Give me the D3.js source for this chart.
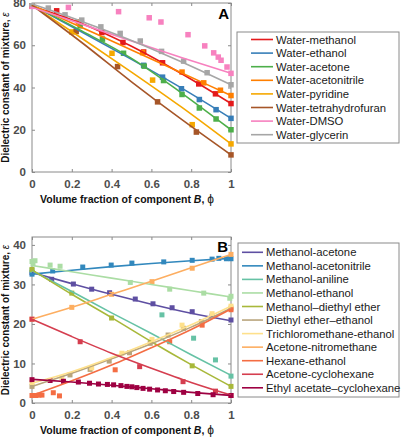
<!DOCTYPE html>
<html><head><meta charset="utf-8">
<script src="https://cdn.jsdelivr.net/npm/d3@7"></script>
<style>body{margin:0;background:#fff}svg{display:block;font-family:"Liberation Sans",Arial,sans-serif}</style>
</head><body><svg id="c" width="401" height="440"></svg>
<script>
// ---------- Panel A data ----------
const namesA = ["Water-methanol","Water-ethanol","Water-acetone","Water-acetonitrile","Water-pyridine","Water-tetrahydrofuran","Water-DMSO","Water-glycerin"];
const colorsA = ["#e41a1c","#377eb8","#4daf4a","#ff7f00","#f5a800","#a65628","#f781bf","#a6a6a6"];
const fitXA = [0, 0.25, 0.5, 0.75, 1];
const fitA_methanol = [78.5, 70.3, 59.5, 46.6, 32.4];
const fitA_ethanol = [79, 66.3, 53.3, 39.8, 25.4];
const fitA_acetone = [79, 66.8, 53.8, 37.5, 20];
const fitA_acetonitrile = [79, 68.4, 57.8, 47, 36.2];
const fitA_pyridine = [79, 63.3, 47.3, 30.8, 13.3];
const fitA_thf = [79, 61.3, 42.7, 25, 8.1];
const fitA_dmso = [78, 70, 62, 54.2, 46.7];
const fitA_glycerin = [79.5, 71.3, 62.3, 52.2, 41.3];
const ptsA_methanol = [[0,78.5],[0.124,76.3],[0.351,66],[0.457,61.3],[0.561,56.8],[0.656,51.7],[0.838,41.7],[0.922,37],[1,32.4]];
const ptsA_ethanol = [[0,79],[0.561,50.5],[0.656,44.9],[0.751,39.4],[0.841,34.3],[0.925,29.5],[1,25.4]];
const ptsA_acetone = [[0,79],[0.242,69.2],[0.354,62.9],[0.46,56.2],[0.564,50.1],[0.661,43.3],[0.754,36.7],[0.841,30.3],[0.925,25.1],[1,20]];
const ptsA_acetonitrile = [[0,79],[0.233,71.1],[0.556,56.5],[0.754,47.3],[0.863,42.2],[0.947,38.7],[1,36.2]];
const ptsA_pyridine = [[0,79],[0.2,66.3],[0.402,56.2],[0.606,43.5],[0.805,22.4],[1,13.3]];
const ptsA_thf = [[0,79],[0.222,66.5],[0.43,49.9],[0.631,33.2],[0.826,18.9],[1,8.1]];
const ptsA_dmso = [[0,78.4],[0.183,77.9],[0.435,75.9],[0.589,73],[0.648,71],[0.784,65],[0.868,59.7],[0.913,56.4],[0.936,54.4],[0.95,52.9],[0.98,49.7],[1,46.7]];
const ptsA_glycerin = [[0,79.6],[0.082,77.6],[0.166,74.4],[0.25,71.9],[0.346,68.7],[0.443,65.6],[0.544,62],[0.651,57.1],[0.762,52.5],[0.88,47],[1,41.3]];
const fitsA = [fitA_methanol,fitA_ethanol,fitA_acetone,fitA_acetonitrile,fitA_pyridine,fitA_thf,fitA_dmso,fitA_glycerin];
const ptsA = [ptsA_methanol,ptsA_ethanol,ptsA_acetone,ptsA_acetonitrile,ptsA_pyridine,ptsA_thf,ptsA_dmso,ptsA_glycerin];

// ---------- Panel B data ----------
const namesB = ["Methanol-acetone","Methanol-acetonitrile","Methanol-aniline","Methanol-ethanol","Methanol\u2013diethyl ether","Diethyl ether\u2013ethanol","Trichloromethane-ethanol","Acetone-nitromethane","Hexane-ethanol","Acetone-cyclohexane","Ethyl acetate\u2013cyclohexane"];
const colorsB = ["#5e4fa2","#3288bd","#66c2a5","#abdda4","#a8b83a","#b9a57c","#fee08b","#fdae61","#f46d43","#d53e4f","#9e0142"];
const fitXB = [0, 0.2, 0.4, 0.6, 0.8, 1];
const fitB_meAcetone = [33, 30.2, 27.5, 25, 22.7, 20.8];
const fitB_meAcetonitrile = [32.6, 33.6, 34.5, 35.3, 36, 36.6];
const fitB_meAniline = [33.5, 28.2, 22.8, 17.6, 12.2, 7];
const fitB_meEthanol = [34.8, 33.2, 31.6, 30, 28.4, 26.8];
const fitB_meEther = [33.7, 27.5, 21.6, 15.5, 9.7, 4.2];
const fitB_etherEthanol = [4.2, 7.5, 11.2, 15, 19.2, 24];
const fitB_chloroEthanol = [5, 7.9, 11.5, 15.5, 19.8, 24.5];
const fitB_acetoneNitro = [21.2, 24.2, 27.5, 30.8, 34.2, 37.6];
const fitB_hexaneEthanol = [1.9, 5.6, 9.6, 14, 18.6, 23.8];
const fitB_acetoneCyclo = [21.2, 16.8, 12.6, 8.8, 5.2, 2];
const fitB_ethylCyclo = [6, 5.3, 4.5, 3.6, 2.7, 1.9];
const ptsB_meAcetone = [[0,33],[0.099,31.3],[0.208,30.1],[0.3,28.8],[0.39,27.9],[0.519,26.3],[0.608,25.1],[0.704,24.1],[0.805,23.1],[0.905,22],[1,21]];
const ptsB_meAcetonitrile = [[0,32.6],[0.104,33.4],[0.255,34.4],[0.398,34.9],[0.502,35.4],[0.662,35.7],[0.805,36.1],[0.905,36.4],[0.939,36.6],[0.977,36.5],[1,36.5]];
const ptsB_meAniline = [[0,33.6],[0.653,22.3],[0.812,16.4],[0.922,10.9],[1,6.8]];
const ptsB_meEthanol = [[0,35.8],[0.005,35.2],[0.015,36],[0.091,34.9],[0.141,34.6],[0.494,30.5],[0.692,28.8],[0.863,27.8],[0.994,26.5],[1,27]];
const ptsB_meEther = [[0,33.8],[0.2,27.8],[0.4,21.5],[0.805,9.4],[1,4.2]];
const ptsB_etherEthanol = [[0,4.2],[0.191,7.1],[0.292,8.5],[0.388,10.6],[0.49,12.7],[0.594,15.1],[0.684,17.2],[0.762,18.9],[0.851,20.6],[1,24]];
const ptsB_chloroEthanol = [[0,5.2],[0.15,6.4],[0.3,8.9],[0.452,12.6],[0.603,16.1],[0.754,19.7],[0.905,22.6],[1,24.5]];
const ptsB_acetoneNitro = [[0,21.2],[0.2,24.2],[0.4,27.5],[0.603,30.7],[0.805,34.1],[1,37.6]];
const ptsB_hexaneEthanol = [[0,1.9],[0.02,1.9],[0.035,2],[0.05,2],[0.107,2.6],[0.138,1.8],[0.418,8.4],[0.692,15.5],[0.855,19.7],[1,23.6]];
const ptsB_acetoneCyclo = [[0,21.2],[0.242,15.5],[0.541,9.2],[0.759,5.4],[0.922,3],[1,1.9]];
const ptsB_ethylCyclo = [[0,5.9],[0.091,5.7],[0.158,5.5],[0.233,5.3],[0.289,5],[0.334,4.8],[0.379,4.7],[0.41,4.6],[0.447,4.4],[0.477,4.2],[0.502,4.1],[0.527,3.9],[0.558,3.7],[0.591,3.5],[0.631,3.3],[0.67,3.1],[0.712,2.9],[0.762,2.7],[0.833,2.4],[0.91,2.1],[1,1.9]];
const fitsB = [fitB_meAcetone,fitB_meAcetonitrile,fitB_meAniline,fitB_meEthanol,fitB_meEther,fitB_etherEthanol,fitB_chloroEthanol,fitB_acetoneNitro,fitB_hexaneEthanol,fitB_acetoneCyclo,fitB_ethylCyclo];
const ptsB = [ptsB_meAcetone,ptsB_meAcetonitrile,ptsB_meAniline,ptsB_meEthanol,ptsB_meEther,ptsB_etherEthanol,ptsB_chloroEthanol,ptsB_acetoneNitro,ptsB_hexaneEthanol,ptsB_acetoneCyclo,ptsB_ethylCyclo];

const xTicks = [0, 0.2, 0.4, 0.6, 0.8, 1];
const yTicksA = [0, 20, 40, 60, 80];
const yTicksB = [0, 10, 20, 30, 40];

const svg = d3.select("#c");
const axisColor = "#8a8a8a";

function panel(opt) {
  const x = d3.scaleLinear().domain([0, 1]).range([32, 231]);
  const y = d3.scaleLinear().domain(opt.ydom).range(opt.yrange);
  const g = svg.append("g");
  const x0 = x.range()[0], x1 = x.range()[1], yb = y.range()[0], yt = y.range()[1];
  g.append("rect").attr("x", x0).attr("y", yt).attr("width", x1 - x0).attr("height", yb - yt)
    .attr("fill", "none").attr("stroke", axisColor).attr("stroke-width", 1);
  const fmt = d => d === 0 ? "0" : d === 1 ? "1" : d3.format(".1f")(d);
  const ax = g.append("g").attr("transform", `translate(0,${yb})`)
    .call(d3.axisBottom(x).tickValues(xTicks).tickFormat(fmt).tickSizeInner(-3).tickSizeOuter(0).tickPadding(8));
  const axT = g.append("g").attr("transform", `translate(0,${yt})`)
    .call(d3.axisTop(x).tickValues(xTicks).tickFormat("").tickSizeInner(-3).tickSizeOuter(0));
  const ay = g.append("g").attr("transform", `translate(${x0},0)`)
    .call(d3.axisLeft(y).tickValues(opt.yticks).tickSizeInner(-3).tickSizeOuter(0).tickPadding(6));
  const ayR = g.append("g").attr("transform", `translate(${x1},0)`)
    .call(d3.axisRight(y).tickValues(opt.yticks).tickFormat("").tickSizeInner(-3).tickSizeOuter(0));
  [ax, axT, ay, ayR].forEach(a => {
    a.select(".domain").remove();
    a.selectAll("line").attr("stroke", axisColor);
    a.selectAll("text").attr("fill", "#4d4d4d").attr("font-size", 11.5).attr("font-weight", "bold")
      .attr("font-family", '"Liberation Sans",Arial,sans-serif');
  });
  const clip = "clip" + opt.letter;
  svg.append("clipPath").attr("id", clip).append("rect").attr("x", x0 - 4).attr("y", yt).attr("width", x1 - x0 + 8).attr("height", yb - yt + 4);
  const data = g.append("g").attr("clip-path", `url(#${clip})`);
  const line = d3.line().x((d, i) => x(opt.fitX[i])).y(d => y(d)).curve(d3.curveMonotoneX);
  opt.pts.forEach((p, k) => {
    data.append("g").selectAll("rect").data(p).join("rect")
      .attr("x", d => x(d[0]) - opt.sq / 2).attr("y", d => y(d[1]) - opt.sq / 2)
      .attr("width", opt.sq).attr("height", opt.sq).attr("fill", opt.colors[k]);
  });
  opt.fits.forEach((f, k) => {
    data.append("path").datum(f).attr("d", line).attr("fill", "none")
      .attr("stroke", opt.colors[k]).attr("stroke-width", 1.6);
  });
  g.append("text").attr("x", opt.letterPos[0]).attr("y", opt.letterPos[1]).attr("text-anchor", "end")
    .attr("font-size", 15).attr("font-weight", "bold").text(opt.letter);
  const xl = g.append("text").attr("x", 127).attr("y", yb + 31).attr("text-anchor", "middle")
    .attr("font-size", 10.5).attr("font-weight", "bold").attr("fill", "#111");
  xl.append("tspan").text("Volume fraction of component ");
  xl.append("tspan").attr("font-style", "italic").text("B");
  xl.append("tspan").text(", ");
  xl.append("tspan").attr("font-weight", "normal").attr("font-size", 12).text("\u03D5");
  const yl = g.append("text").attr("transform", `translate(9,${(yb + yt) / 2}) rotate(-90)`)
    .attr("text-anchor", "middle").attr("font-size", 10).attr("font-weight", "bold").attr("fill", "#111");
  yl.append("tspan").text("Dielectric constant of mixture, ");
  yl.append("tspan").attr("font-weight", "normal").attr("font-style", "italic").text("\u03B5");
  const L = opt.legend;
  const lg = g.append("g");
  lg.append("rect").attr("x", L.x).attr("y", L.y).attr("width", L.w).attr("height", L.h)
    .attr("fill", "#fff").attr("stroke", "#8a8a8a").attr("stroke-width", 1);
  opt.names.forEach((n, k) => {
    const yy = L.y0 + k * L.dy;
    lg.append("line").attr("x1", L.lx0).attr("x2", L.lx1).attr("y1", yy).attr("y2", yy)
      .attr("stroke", opt.colors[k]).attr("stroke-width", 1.6);
    lg.append("text").attr("x", L.tx).attr("y", yy + 4).attr("font-size", 11.3).attr("fill", "#1a1a1a").text(n);
  });
}

panel({letter: "A", ydom: [0, 80], yrange: [172, 3], yticks: yTicksA, fitX: fitXA, fits: fitsA, pts: ptsA,
  colors: colorsA, names: namesA, sq: 5.5, letterPos: [229, 19],
  legend: {x: 237, y: 32, w: 162, h: 111, y0: 39.5, dy: 13.6, lx0: 251, lx1: 273, tx: 276}});
panel({letter: "B", ydom: [0, 42], yrange: [403, 237], yticks: yTicksB, fitX: fitXB, fits: fitsB, pts: ptsB,
  colors: colorsB, names: namesB, sq: 5, letterPos: [228, 252],
  legend: {x: 238, y: 243, w: 161, h: 154, y0: 252.3, dy: 13.55, lx0: 242, lx1: 263, tx: 266}});
</script></body></html>
